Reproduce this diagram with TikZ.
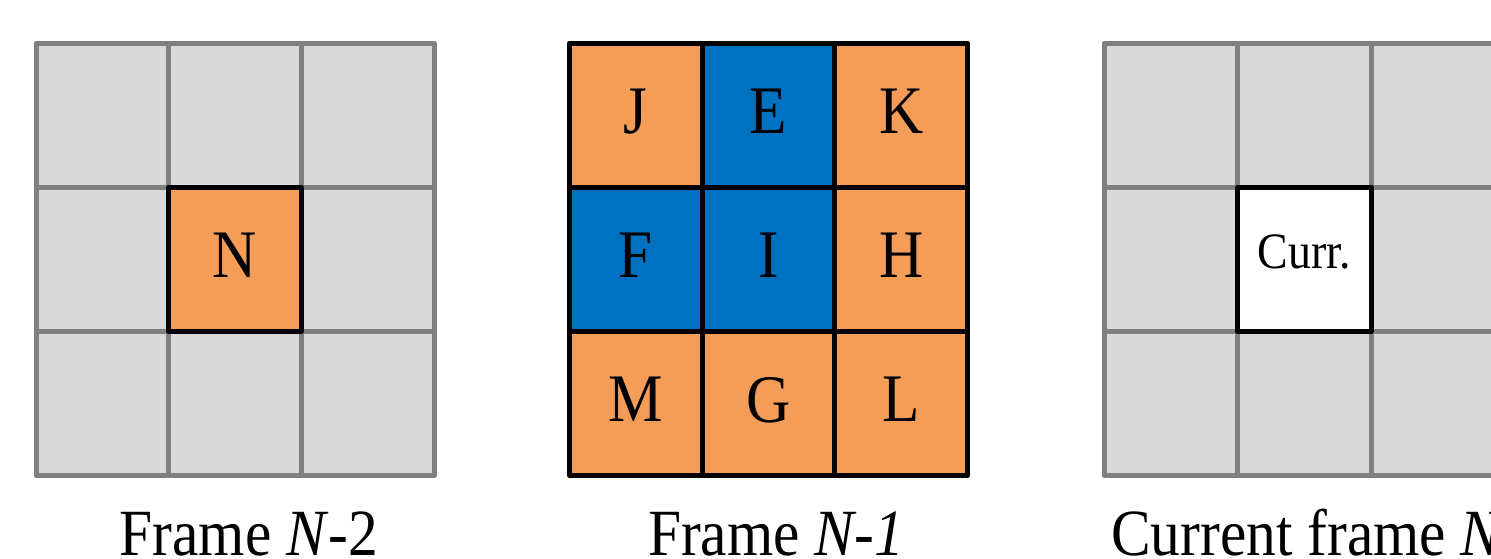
\documentclass[tikz,border=0pt]{standalone}
\usepackage{fontspec}
\setmainfont{Liberation Serif}[FakeStretch=0.9]
\definecolor{cellgray}{HTML}{D9D9D9}
\definecolor{linegray}{HTML}{808080}
\definecolor{blkorange}{RGB}{244,157,88}
\definecolor{blkblue}{HTML}{0070C0}
\begin{document}
\begin{tikzpicture}[x=1pt,y=-1pt,
  cellbase/.style={rectangle, minimum width=132.7pt, minimum height=144.2pt,
    inner sep=0pt, outer sep=0pt, line width=5pt, line join=round},
  graycell/.style={cellbase, draw=linegray, fill=cellgray},
  hicell/.style={cellbase, draw=black, text depth=8pt, font=\fontsize{68}{80}\selectfont},
  ocell/.style={hicell, fill=blkorange},
  bcell/.style={hicell, fill=blkblue},
  caption/.style={anchor=base, inner sep=0pt, font=\fontsize{66}{78}\selectfont}]
\useasboundingbox (0,0) rectangle (1491,558);
\clip (0,0) rectangle (1491,558);

% Frame N-2: gray 3x3 neighbourhood with the co-located block N
\node[graycell] (a11) at (102.35,115.1) {};
\node[graycell] (a12) at (235.05,115.1) {};
\node[graycell] (a13) at (367.75,115.1) {};
\node[graycell] (a21) at (102.35,259.3) {};
\node[graycell] (a23) at (367.75,259.3) {};
\node[graycell] (a31) at (102.35,403.5) {};
\node[graycell] (a32) at (235.05,403.5) {};
\node[graycell] (a33) at (367.75,403.5) {};
\node[ocell] (blkN) at (235.05,259.3) {N};
\node[caption] (cap1) at (249,555) {Frame \textit{N}-2};

% Frame N-1: spatial candidates around the co-located block I
\node[ocell] (blkJ) at (635.85,115.1) {J};
\node[bcell] (blkE) at (768.55,115.1) {E};
\node[ocell] (blkK) at (901.25,115.1) {K};
\node[bcell] (blkF) at (635.85,259.3) {F};
\node[bcell] (blkI) at (768.55,259.3) {I};
\node[ocell] (blkH) at (901.25,259.3) {H};
\node[ocell] (blkM) at (635.85,403.5) {M};
\node[ocell] (blkG) at (768.55,403.5) {G};
\node[ocell] (blkL) at (901.25,403.5) {L};
\node[caption] (cap2) at (776,555) {Frame \textit{N-1}};

% Current frame N
\begin{scope}[graycell/.append style={minimum width=133.5pt}]
\node[graycell] (c11) at (1170.75,115.1) {};
\node[graycell] (c12) at (1304.25,115.1) {};
\node[graycell] (c13) at (1437.75,115.1) {};
\node[graycell] (c21) at (1170.75,259.3) {};
\node[graycell] (c23) at (1437.75,259.3) {};
\node[graycell] (c31) at (1170.75,403.5) {};
\node[graycell] (c32) at (1304.25,403.5) {};
\node[graycell] (c33) at (1437.75,403.5) {};
\node[hicell, fill=white, minimum width=133.5pt, text depth=16pt,
  font=\fontsize{51}{60}\selectfont] (curr) at (1304.25,259.3) {Curr.};
\end{scope}
\node[caption, anchor=base west] (cap3) at (1111,555) {Current frame \textit{N}};
\end{tikzpicture}
\end{document}
